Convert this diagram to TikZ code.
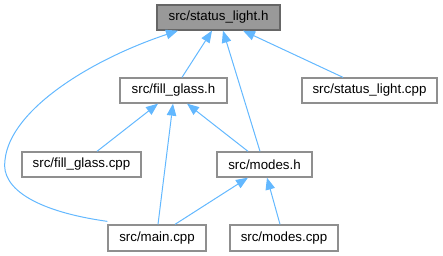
\documentclass[tikz,border=0pt]{standalone}
\usepackage{fontspec}
\setmainfont{Liberation Sans}
\usetikzlibrary{arrows.meta}
\definecolor{edgeblue}{HTML}{63B8FF}
\definecolor{rootfill}{HTML}{999999}
\definecolor{rootdraw}{HTML}{666666}
\definecolor{boxdraw}{HTML}{8F8F8F}
\tikzset{
  file/.style={draw=boxdraw, fill=white, line width=1.3pt, inner sep=0pt,
    minimum height=25pt, font=\fontsize{13.3pt}{15pt}\selectfont, text=black},
  root/.style={file, fill=rootfill, draw=rootdraw},
  incl/.style={draw=edgeblue, line width=1pt,
    {Triangle[length=12pt,width=9.5pt,fill=edgeblue]}-}
}
\begin{document}
\begin{tikzpicture}[x=1pt,y=-1pt]
  \useasboundingbox (0,0) rectangle (443,256);

  % files of the include graph
  \node[root, minimum width=123pt] (slh) at (218.5,17.5) {src/status\_light.h};
  \node[file, minimum width=107pt] (fgh) at (173.5,90.5) {src/fill\_glass.h};
  \node[file, minimum width=135pt] (slc) at (369.5,90.5) {src/status\_light.cpp};
  \node[file, minimum width=119pt] (fgc) at (81.5,164.5) {src/fill\_glass.cpp};
  \node[file, minimum width=95pt]  (mh)  at (264.5,164.5) {src/modes.h};
  \node[file, minimum width=98pt, minimum height=26pt] (mc) at (157,238) {src/main.cpp};
  \node[file, minimum width=108pt, minimum height=26pt] (mcp) at (284,238) {src/modes.cpp};

  % includes of status_light.h
  \draw[incl] ([xshift=-6.5pt]slh.south) -- ([xshift=8.5pt]fgh.north);
  \draw[incl] ([xshift=4.5pt]slh.south) -- ([xshift=-4.5pt]mh.north);
  \draw[incl] ([xshift=24.5pt]slh.south) -- ([xshift=-26.5pt]slc.north);
  \draw[incl] ([xshift=-40.5pt]slh.south)
    .. controls (90,60) and (10,110) .. (5,160)
    .. controls (0,190) and (40,212) .. ([yshift=3pt]mc.north west);

  % includes of fill_glass.h
  \draw[incl] ([xshift=-15.5pt]fgh.south) -- ([xshift=15.5pt]fgc.north);
  \draw[incl] ([xshift=-0.5pt]fgh.south) -- ([xshift=1pt]mc.north);
  \draw[incl] ([xshift=13.5pt]fgh.south) -- ([xshift=-16.5pt]mh.north);

  % includes of modes.h
  \draw[incl] ([xshift=-16.5pt]mh.south) -- ([xshift=18pt]mc.north);
  \draw[incl] ([xshift=2.5pt]mh.south) -- ([xshift=-4pt]mcp.north);
\end{tikzpicture}
\end{document}
